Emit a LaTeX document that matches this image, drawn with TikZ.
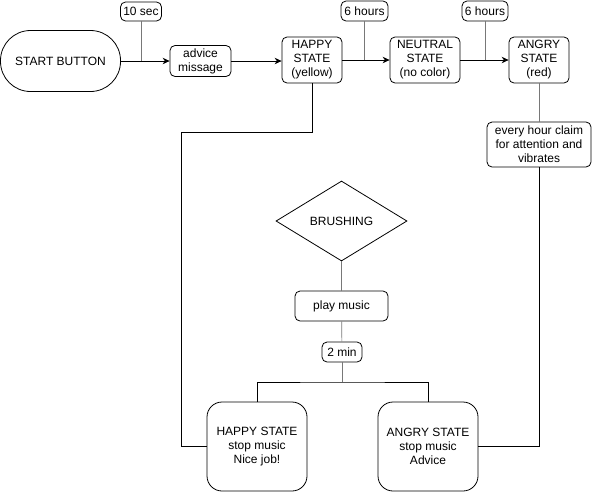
\documentclass[tikz,border=0pt]{standalone}
\usepackage{fontspec}
\setmainfont{Liberation Sans}
\usetikzlibrary{shapes.geometric,arrows.meta}
\definecolor{lgray}{RGB}{120,120,120}
\begin{document}
\begin{tikzpicture}[x=1pt,y=-1pt,
  base/.style={draw, align=center, inner sep=0pt, line width=0.8pt,
    font=\fontsize{12}{14}\selectfont},
  box/.style={base, rounded corners=5pt},
  bigbox/.style={base, rounded corners=15pt},
  stadium/.style={base, rounded corners=30pt},
  dia/.style={base, shape=diamond, aspect=1.64},
  sz/.style 2 args={minimum width=#1, minimum height=#2},
  link/.style={line width=0.8pt},
  thin/.style={line width=0.7pt, lgray},
  arr/.style={link, -{Stealth[length=7pt,width=6.5pt]}}]
\useasboundingbox (0,0) rectangle (593,493);
\node[stadium, sz={120}{61}] (start) at (60.5,61) {START BUTTON};
\node[box, sz={41}{19}] (tensec) at (141,11.5) {10 sec};
\node[box, sz={61}{31}] (advice) at (200.5,61) {advice\\missage};
\node[box, sz={60}{46}] (happy) at (312,60) {HAPPY\\STATE\\(yellow)};
\node[box, sz={47}{20}] (sixa) at (364.5,11) {6 hours};
\node[box, sz={70}{46}] (neutral) at (425,60) {NEUTRAL\\STATE\\(no color)};
\node[box, sz={46}{20}] (sixb) at (485,11) {6 hours};
\node[box, sz={60}{46}] (angry) at (539,60) {ANGRY\\STATE\\(red)};
\node[box, sz={104}{45}] (every) at (539,144.5) {every hour claim\\for attention and\\vibrates};
\node[dia, sz={131}{80}] (brush) at (341.5,221) {BRUSHING};
\node[box, sz={93}{30}] (play) at (341.5,306) {play music};
\node[box, sz={40}{20}] (twomin) at (342,352) {2 min};
\node[bigbox, sz={100}{89}] (hs) at (257,446.5) {HAPPY STATE\\stop music\\Nice job!};
\node[bigbox, sz={100}{89}] (as) at (428,446.5) {ANGRY STATE\\stop music\\Advice};
\coordinate (hl) at (181,132);
\coordinate (j) at (342,382);
\draw[arr] (start) -- (advice);
\draw[thin] (tensec.south) -- (tensec.south |- start.east);
\draw[arr] (advice.east) -- (happy.west |- advice.east);
\draw[arr] (happy) -- (neutral);
\draw[thin] (sixa.south) -- (sixa.south |- happy.east);
\draw[arr] (neutral) -- (angry);
\draw[thin] (sixb.south) -- (sixb.south |- neutral.east);
\draw[link] (happy.south) |- (hl) |- (hs.west);
\draw[thin] (angry) -- (every);
\draw[link] (every.south) |- (as.east);
\draw[thin] (brush) -- (play);
\draw[thin] (play) -- (twomin);
\draw[thin] (twomin) -- (j);
\draw[link] (hs.north) |- (j) -| (as.north);
\end{tikzpicture}
\end{document}
